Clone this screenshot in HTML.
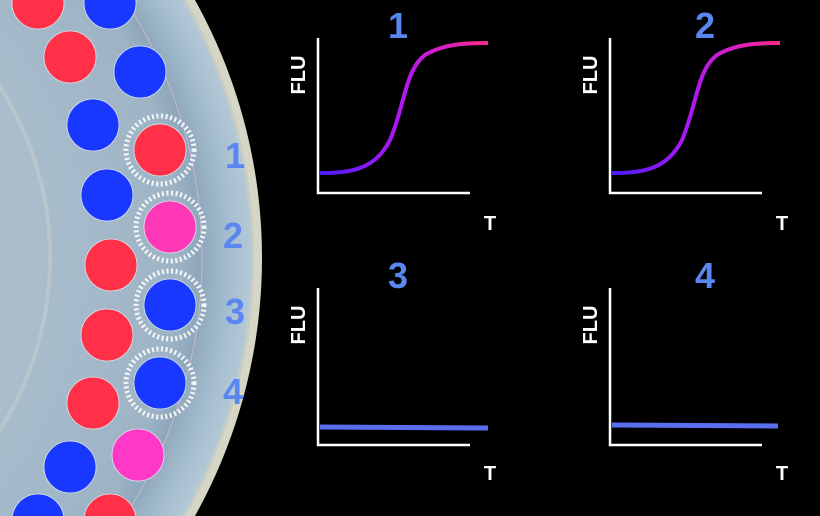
<!DOCTYPE html><html><head><style>html,body{margin:0;background:#000;width:820px;height:516px;overflow:hidden}svg{display:block;overflow:hidden}</style></head><body>
<svg width="820" height="516" viewBox="0 0 820 516" xmlns="http://www.w3.org/2000/svg" font-family="Liberation Sans, sans-serif" font-weight="bold">
<defs>
<clipPath id="c"><rect width="820" height="516"/></clipPath>
<linearGradient id="g" x1="0" y1="0" x2="1" y2="0"><stop offset="0" stop-color="#4a1cff"/><stop offset="0.5" stop-color="#b418f0"/><stop offset="1" stop-color="#ff2a8a"/></linearGradient>
<radialGradient id="d" cx="-268" cy="258" r="520" gradientUnits="userSpaceOnUse"><stop offset="0.6" stop-color="#a8bccb"/><stop offset="0.86" stop-color="#9db4c6"/><stop offset="0.9" stop-color="#8ea7ba"/><stop offset="0.96" stop-color="#a6bfd0"/><stop offset="1" stop-color="#b4c8d6"/></radialGradient>
</defs>
<g clip-path="url(#c)">
<circle cx="-268" cy="258" r="530" fill="#d6d6c6"/>
<circle cx="-268" cy="258" r="522" fill="#c4ccc8"/>
<circle cx="-268" cy="258" r="519" fill="url(#d)"/>
<circle cx="-268" cy="258" r="470" fill="none" stroke="#c7b6d0" stroke-width="1"/>
<circle cx="-268" cy="258" r="318" fill="none" stroke="#b8c6cc" stroke-width="4"/>
<circle cx="-268" cy="258" r="312" fill="#a9bdca"/>
<g stroke="#dfe6ee" stroke-width="0.8">
<circle cx="38" cy="3" r="26" fill="#ff3048"/><circle cx="110" cy="3" r="26" fill="#1838ff"/>
<circle cx="70" cy="57" r="26" fill="#ff3048"/><circle cx="140" cy="72" r="26" fill="#1838ff"/>
<circle cx="93" cy="125" r="26" fill="#1838ff"/><circle cx="160" cy="150" r="26" fill="#ff3048"/>
<circle cx="107" cy="195" r="26" fill="#1838ff"/><circle cx="170" cy="227" r="26" fill="#ff38b8"/>
<circle cx="111" cy="265" r="26" fill="#ff3048"/><circle cx="170" cy="305" r="26" fill="#1838ff"/>
<circle cx="107" cy="335" r="26" fill="#ff3048"/><circle cx="160" cy="383" r="26" fill="#1838ff"/>
<circle cx="93" cy="403" r="26" fill="#ff3048"/><circle cx="138" cy="455" r="26" fill="#ff38c8"/>
<circle cx="70" cy="467" r="26" fill="#1838ff"/><circle cx="38" cy="520" r="26" fill="#1838ff"/><circle cx="110" cy="520" r="26" fill="#ff3048"/>
</g>
<g fill="none" stroke="#fff" stroke-width="5" stroke-dasharray="2 2.6" opacity="0.9">
<circle cx="160" cy="150" r="34"/><circle cx="170" cy="227" r="34"/><circle cx="170" cy="305" r="34"/><circle cx="160" cy="383" r="34"/>
</g>
</g>
<g fill="#5a86f0" font-size="36" text-anchor="middle">
<text x="235" y="168">1</text><text x="233" y="248">2</text><text x="235" y="324">3</text><text x="233" y="404">4</text>
<text x="398" y="38">1</text><text x="705" y="38">2</text><text x="398" y="288">3</text><text x="705" y="288">4</text>
</g>
<g stroke="#fff" stroke-width="2.5" fill="none">
<path d="M318 38V193H470"/><path d="M610 38V193H762"/><path d="M318 288V445H470"/><path d="M610 288V445H762"/>
</g>
<g fill="#fff" font-size="20">
<text x="490" y="230" text-anchor="middle">T</text><text x="782" y="230" text-anchor="middle">T</text>
<text x="490" y="480" text-anchor="middle">T</text><text x="782" y="480" text-anchor="middle">T</text>
<text transform="translate(305,75) rotate(-90)" text-anchor="middle">FLU</text>
<text transform="translate(597,75) rotate(-90)" text-anchor="middle">FLU</text>
<text transform="translate(305,325) rotate(-90)" text-anchor="middle">FLU</text>
<text transform="translate(597,325) rotate(-90)" text-anchor="middle">FLU</text>
</g>
<g fill="none" stroke="url(#g)" stroke-width="4">
<path d="M320 173C350 173 375 170 390 140C405 105 405 70 425 55C445 43 470 43 488 43"/>
<path d="M612 173C642 173 667 170 682 140C697 105 697 70 717 55C737 43 762 43 780 43"/>
</g>
<g stroke="#5a6ef0" stroke-width="5"><path d="M320 427L488 428"/><path d="M612 425L778 426"/></g>
</svg></body></html>
